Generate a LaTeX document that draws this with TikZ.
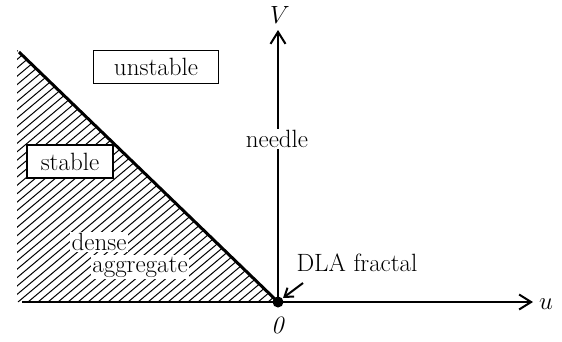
\documentclass[tikz,border=0pt]{standalone}
\usetikzlibrary{arrows.meta}
\begin{document}
\begin{tikzpicture}[x=1pt,y=-1pt,
  lbl/.style={font=\fontsize{25}{29}\selectfont, inner sep=1.5pt},
  boxed/.style={lbl, draw, line width=1.5pt, fill=white, minimum height=33pt, inner xsep=8pt},
  axis/.style={line width=2pt, -{Straight Barb[length=12pt,width=15pt,line width=2pt]}},
  hatch/.style={line width=1pt},
  boundary/.style={line width=3pt}]
\useasboundingbox (0,0) rectangle (562,341);
\coordinate (O) at (278,302);
\coordinate (ustart) at (22,302);
\coordinate (uend) at (533,302);
\coordinate (Vend) at (278,30);
\coordinate (btop) at (19,52);
% hatched region
\begin{scope}
  \clip (17,50) -- (O) -- (17,302) -- cycle;
  \foreach \x in {-342,-332,...,290} \draw[hatch] (\x,302) -- ++(357.5,-300);
\end{scope}
% axes
\draw[line width=2pt] (ustart) -- (O);
\draw[axis] (O) -- (uend);
\draw[axis] (O) -- (Vend);
\draw[boundary] (btop) -- (O);
\fill (O) circle (5.5pt);
% labels
\node[lbl] (V) at (280,15) {$V$};
\node[lbl] (u) at (546,304) {$u$};
\node[lbl] (zero) at (278,325) {\textit{0}};
\node[lbl, fill=white] (needle) at (277,139) {needle};
\node[boxed, minimum width=125pt] (unstable) at (156,67) {unstable};
\node[boxed, minimum width=86pt] (stable) at (70,161.5) {stable};
\node[lbl, fill=white] (dense) at (99,242) {dense};
\node[lbl, fill=white] (aggr) at (140,267) {aggregate};
\node[lbl] (dla) at (357,263) {DLA fractal};
\draw[line width=2pt, -{Straight Barb[length=8pt,width=11pt,line width=2pt]}] (303,283) -- (283,298);
\end{tikzpicture}
\end{document}
